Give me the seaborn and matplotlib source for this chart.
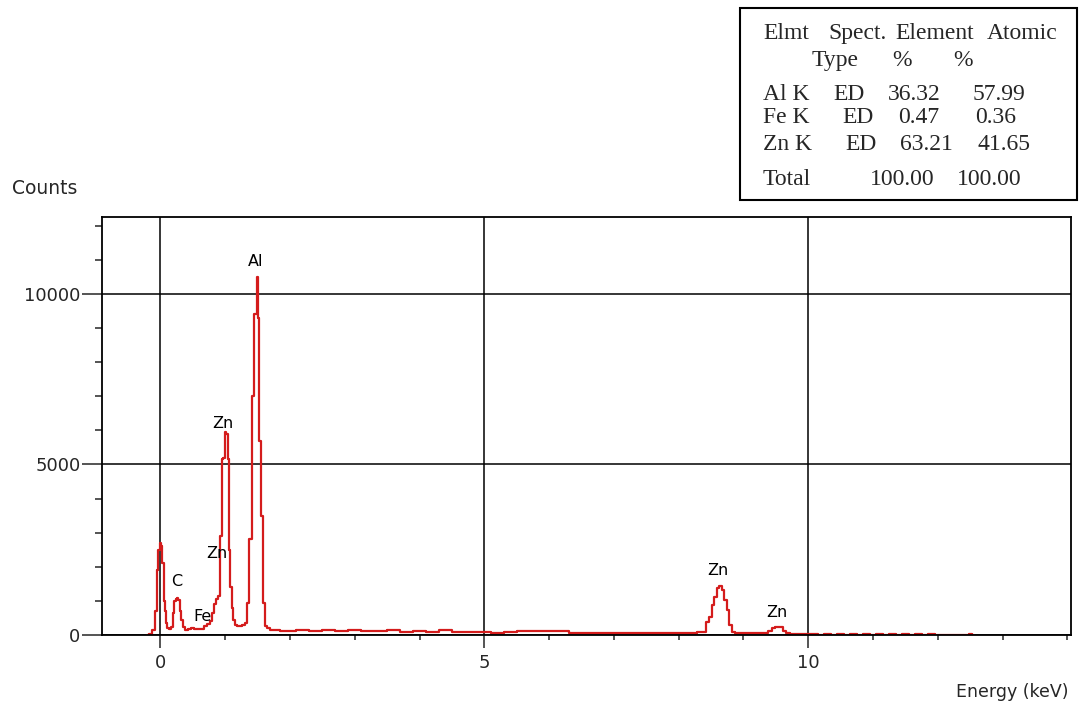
import matplotlib.pyplot as plt
import matplotlib.patches as mpatches
from matplotlib.ticker import MultipleLocator
import numpy as np
import pandas as pd
import seaborn as sns

# EDS spectrum (energy in keV, counts)
energy_kev = [
    -0.20, -0.15, -0.10, -0.07, -0.04, -0.02, 0.00, 0.02, 0.04,
    0.06, 0.08, 0.10, 0.12, 0.15, 0.18, 0.20, 0.22, 0.25, 0.27,
    0.29, 0.31, 0.33, 0.36, 0.40, 0.45, 0.50, 0.55, 0.60, 0.65,
    0.70, 0.74, 0.78, 0.82, 0.85, 0.88, 0.91, 0.94, 0.96, 0.99,
    1.01, 1.03, 1.05, 1.07, 1.09, 1.11, 1.13, 1.16, 1.20, 1.24,
    1.28, 1.32, 1.36, 1.39, 1.43, 1.47, 1.50, 1.52, 1.54, 1.57,
    1.60, 1.63, 1.67, 1.72, 1.80, 1.90, 2.00, 2.20, 2.40, 2.60,
    2.80, 3.00, 3.20, 3.40, 3.60, 3.80, 4.00, 4.20, 4.40, 4.60,
    4.80, 5.00, 5.20, 5.40, 5.60, 5.80, 6.00, 6.20, 6.40, 6.60,
    7.00, 7.40, 7.80, 8.20, 8.35, 8.39, 8.46, 8.49, 8.53, 8.57,
    8.60, 8.64, 8.69, 8.72, 8.76, 8.80, 8.85, 8.90, 9.00, 9.20,
    9.35, 9.42, 9.46, 9.52, 9.58, 9.63, 9.68, 9.75, 9.85, 10.00,
    10.10, 10.20, 10.30, 10.40, 10.50, 10.60, 10.70, 10.80, 10.90, 11.00,
    11.10, 11.20, 11.30, 11.40, 11.50, 11.60, 11.70, 11.80, 11.90, 12.00,
    12.10, 12.45, 12.50, 12.55,
]
counts = [
    0, 30, 150, 700, 1900, 2500, 2700, 2600, 2100,
    1000, 700, 350, 200, 180, 220, 650, 1000, 1050, 1090,
    1020, 700, 450, 220, 160, 170, 200, 190, 170, 180,
    250, 330, 420, 650, 900, 1050, 1150, 2900, 5150, 5200,
    5950, 5900, 5150, 2500, 1400, 800, 450, 280, 250, 260,
    300, 350, 950, 2800, 7000, 9400, 10500, 9300, 5700, 3500,
    950, 250, 200, 160, 150, 130, 120, 140, 110, 150,
    120, 150, 110, 130, 160, 100, 110, 90, 150, 90,
    80, 100, 70, 80, 110, 120, 110, 120, 60, 55,
    50, 45, 50, 60, 80, 100, 390, 540, 880, 1120,
    1370, 1440, 1320, 1020, 740, 290, 100, 60, 55, 50,
    60, 120, 200, 230, 220, 130, 60, 30, 40, 30,
    40, 0, 40, 0, 40, 0, 40, 0, 40, 0,
    40, 0, 40, 0, 40, 0, 40, 0, 40, 0,
    0, 0, 40, 0,
]

# Peak labels
peak_names = ["Al", "Zn", "Zn", "C", "Fe", "Zn", "Zn"]
peak_x = [1.47, 0.96, 0.88, 0.26, 0.65, 8.60, 9.52]
peak_y = [10940, 6190, 2400, 1580, 530, 1880, 650]

# Quantification table (tokens with their left x in pixels)
table_tokens = [
    [("Elmt", 763), ("Spect.", 828), ("Element", 895), ("Atomic", 987)],
    [("Type", 812), ("%", 892), ("%", 953)],
    [("Al K", 763), ("ED", 833), ("36.32", 888), ("57.99", 973)],
    [("Fe K", 763), ("ED", 842), ("0.47", 898), ("0.36", 975)],
    [("Zn K", 763), ("ED", 845), ("63.21", 900), ("41.65", 978)],
    [("Total", 763), ("100.00", 870), ("100.00", 957)],
]
table_row_base = [39, 66, 100, 123, 150, 185]

df = pd.DataFrame({"Energy": energy_kev, "Counts": counts})

sns.set_style("white")
plt.rcParams["font.family"] = ["DejaVu Sans"]

W, H = 1080, 706
fig = plt.figure(figsize=(W / 100, H / 100), dpi=100)
ax = fig.add_axes([102 / W, (H - 635) / H, 968.7 / W, (635 - 217) / H])

# line sits under the spines so zero stretches hide behind the x axis
sns.lineplot(data=df, x="Energy", y="Counts", ax=ax, estimator=None,
             drawstyle="steps-mid", color="#d41c1c", linewidth=1.6, zorder=2)

ax.set_xlim(-0.9, 14.05)
ax.set_ylim(0, 12250)
ax.set_xlabel("")
ax.set_ylabel("")

ax.xaxis.set_major_locator(MultipleLocator(5))
ax.xaxis.set_minor_locator(MultipleLocator(1))
ax.yaxis.set_major_locator(MultipleLocator(5000))
ax.yaxis.set_minor_locator(MultipleLocator(1000))

ax.tick_params(axis="x", which="major", direction="out", length=9.5, width=1.1,
               labelsize=13, pad=4, bottom=True)
ax.tick_params(axis="x", which="minor", direction="out", length=3.6, width=1.1, bottom=True)
ax.tick_params(axis="y", which="major", direction="out", length=14.4, width=1.1,
               labelsize=13, pad=1, left=True)
ax.tick_params(axis="y", which="minor", direction="out", length=5, width=1.1, left=True)

ax.grid(True, which="major", color="black", linewidth=1.1)
ax.set_axisbelow(True)
for s in ax.spines.values():
    s.set_color("black")
    s.set_linewidth(1.3)
    s.set_visible(True)

for name, px, py in zip(peak_names, peak_x, peak_y):
    ax.text(px, py, name, ha="center", va="center", fontsize=11.5, color="black", zorder=4)

fig.text(12 / W, 1 - 189 / H, "Counts", ha="left", va="center", fontsize=13.5)
fig.text(1068 / W, 1 - 692 / H, "Energy (keV)", ha="right", va="center", fontsize=12.5)

# Table box and text
box = mpatches.Rectangle((740 / W, 1 - 200 / H), 337 / W, 192 / H,
                         transform=fig.transFigure, fill=False,
                         edgecolor="black", linewidth=1.5)
fig.patches.append(box)
for row, ty in zip(table_tokens, table_row_base):
    for txt, tx in row:
        fig.text(tx / W, 1 - ty / H, txt, ha="left", va="baseline",
                 fontsize=17, family=["Liberation Serif"])

fig.savefig("out.png", dpi=100)
